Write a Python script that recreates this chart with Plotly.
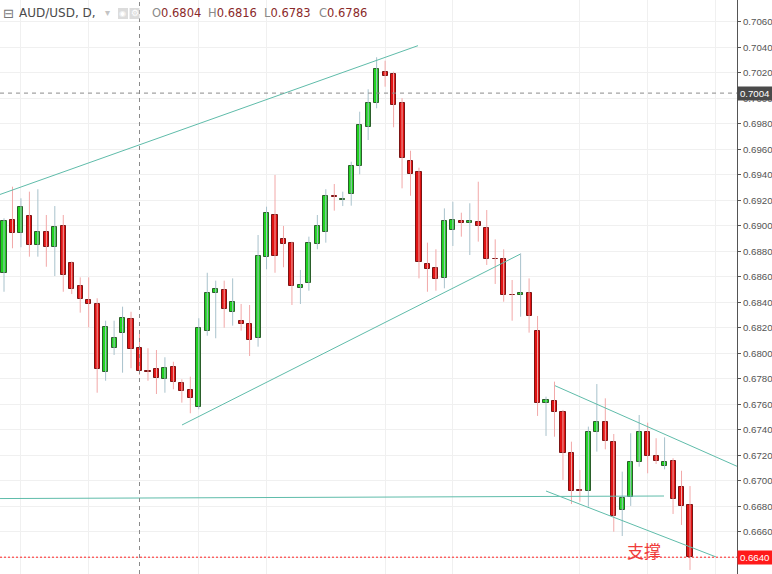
import plotly.graph_objects as go
import pandas as pd

# ---- data (AUD/USD daily) ----
opens = [0.68627, 0.69045, 0.68945, 0.69076, 0.68846, 0.68948, 0.68833, 0.68998, 0.68705, 0.68527,
         0.68417, 0.68384, 0.67855, 0.68043, 0.68156, 0.68266, 0.6804, 0.67862, 0.67874, 0.67795,
         0.67894, 0.67764, 0.67711, 0.67580, 0.68177, 0.68475, 0.68496, 0.68323, 0.68253, 0.68229,
         0.68117, 0.68757, 0.69084, 0.68893, 0.68867, 0.68514, 0.68553, 0.68854, 0.68953, 0.69235,
         0.69205, 0.69246, 0.69468, 0.69772, 0.69960, 0.70208, 0.70190, 0.69960, 0.69507, 0.69424,
         0.68700, 0.68666, 0.68592, 0.68966, 0.69037, 0.69019, 0.69027, 0.68984, 0.68740, 0.68737,
         0.68458, 0.68456, 0.68475, 0.68177, 0.67612, 0.67625, 0.67541, 0.67220, 0.66924, 0.66922,
         0.67384, 0.67463, 0.67306, 0.66770, 0.66875, 0.67144, 0.67380, 0.67194, 0.67118, 0.67157,
         0.66948, 0.66809]
highs = [0.69058, 0.69306, 0.69215, 0.69267, 0.69286, 0.69084, 0.69154, 0.69084, 0.68720, 0.68595,
         0.68595, 0.68431, 0.68255, 0.68255, 0.68365, 0.68325, 0.6816, 0.68039, 0.68025, 0.67968,
         0.67933, 0.67795, 0.67816, 0.68274, 0.68631, 0.68569, 0.68569, 0.68587, 0.68386, 0.68378,
         0.68927, 0.69149, 0.69398, 0.68998, 0.68875, 0.68653, 0.68914, 0.69084, 0.69286, 0.69327,
         0.69267, 0.69502, 0.69894, 0.70070, 0.70321, 0.70294, 0.70208, 0.70000, 0.69588, 0.69455,
         0.68867, 0.68815, 0.69136, 0.69188, 0.69102, 0.69176, 0.69345, 0.69123, 0.68893, 0.68815,
         0.68574, 0.68784, 0.68587, 0.68292, 0.67659, 0.67777, 0.67555, 0.67306, 0.67084, 0.67424,
         0.67758, 0.67646, 0.67366, 0.67071, 0.67372, 0.67515, 0.67455, 0.67333, 0.67340, 0.67176,
         0.67078, 0.66958]
lows = [0.68482, 0.68823, 0.68831, 0.68757, 0.68757, 0.68678, 0.68605, 0.68482, 0.68464, 0.68318,
        0.68203, 0.67690, 0.67784, 0.67986, 0.67847, 0.67882, 0.6783, 0.67784, 0.67680, 0.67690,
        0.67717, 0.67612, 0.67529, 0.67560, 0.68137, 0.68117, 0.68200, 0.68216, 0.68177, 0.67978,
        0.68051, 0.68658, 0.68631, 0.68674, 0.68378, 0.68386, 0.68490, 0.68815, 0.68867, 0.69118,
        0.69154, 0.69157, 0.69403, 0.69672, 0.69921, 0.70090, 0.69772, 0.69293, 0.69235, 0.68587,
        0.68482, 0.68490, 0.68509, 0.68841, 0.68914, 0.68770, 0.68875, 0.68692, 0.68543, 0.68404,
        0.68255, 0.68286, 0.68161, 0.67508, 0.67351, 0.67345, 0.67006, 0.66817, 0.66835, 0.66796,
        0.67228, 0.67246, 0.66600, 0.66566, 0.66802, 0.67110, 0.67058, 0.67131, 0.67089, 0.66739,
        0.66653, 0.66300]
closes = [0.69039, 0.68945, 0.69149, 0.68846, 0.68948, 0.68833, 0.68987, 0.68611, 0.68501, 0.68423,
          0.68384, 0.67874, 0.68203, 0.68117, 0.68274, 0.68031, 0.6786, 0.67855, 0.67803, 0.67882,
          0.67777, 0.67704, 0.67651, 0.68195, 0.68475, 0.68501, 0.68344, 0.68399, 0.68231, 0.68101,
          0.68762, 0.69097, 0.68762, 0.68854, 0.68527, 0.68535, 0.68867, 0.68998, 0.69233, 0.69225,
          0.69210, 0.69468, 0.69790, 0.69960, 0.70227, 0.70174, 0.69944, 0.69529, 0.69403, 0.68718,
          0.68660, 0.68584, 0.69037, 0.69045, 0.69019, 0.69037, 0.68998, 0.68737, 0.68735, 0.68456,
          0.68454, 0.68475, 0.68292, 0.67612, 0.67631, 0.67541, 0.67220, 0.66922, 0.66920, 0.67384,
          0.67463, 0.67311, 0.66726, 0.66862, 0.67144, 0.67380, 0.67194, 0.67155, 0.67144, 0.66857,
          0.66804, 0.66400]
dates = [d.strftime("%Y-%m-%d") for d in pd.bdate_range("2019-10-30", periods=len(opens))]
bar_index = list(range(len(opens)))

grid_bars = [2, 10, 23, 31, 45, 53, 68, 76, 84]          # vertical grid positions (bar index)
price_ticks = [round(0.6640 + 0.002 * k, 4) for k in range(22)]

# trend lines: (bar index, price) pairs
trend_lines = [
    ((-0.47, 0.69245), (48.88, 0.70412)),
    ((21.02, 0.67437), (60.93, 0.68776)),
    ((-0.47, 0.66860), (77.93, 0.66880)),
    ((65.06, 0.67745), (86.55, 0.67113)),
    ((64.00, 0.66919), (84.07, 0.66402)),
]
cross_bar = 16
cross_price = 0.7004
last_price = 0.6640
header = {"O": "0.6804", "H": "0.6816", "L": "0.6783", "C": "0.6786"}

X_RANGE = [-0.472, 86.55]
Y_RANGE = [0.662682, 0.707702]
PLOT_W = 737.0
H = 574.0

UP, DOWN = "#1fd21f", "#e01212"
UP_EDGE, DOWN_EDGE = "#2a5e2a", "#7c1414"
UP_WICK, DOWN_WICK = "#a8c2cc", "#f2a8a8"
TEAL = "#5fbcaa"

fig = go.Figure()

# wicks
for up, col in ((True, UP_WICK), (False, DOWN_WICK)):
    wx, wy = [], []
    for i in bar_index:
        if (closes[i] >= opens[i]) == up:
            wx += [i, i, None]
            wy += [lows[i], highs[i], None]
    fig.add_trace(go.Scatter(x=wx, y=wy, mode="lines", line=dict(color=col, width=1),
                             hoverinfo="skip", showlegend=False))

# bodies
base = [min(o, c) for o, c in zip(opens, closes)]
height = [abs(c - o) for o, c in zip(opens, closes)]
fill = [UP if c >= o else DOWN for o, c in zip(opens, closes)]
edge = [UP_EDGE if c >= o else DOWN_EDGE for o, c in zip(opens, closes)]
fig.add_trace(go.Bar(x=bar_index, y=height, base=base, width=0.6,
                     marker=dict(color=fill, line=dict(color=edge, width=1)),
                     customdata=list(zip(dates, opens, highs, lows, closes)),
                     hovertemplate="%{customdata[0]}<br>O %{customdata[1]}<br>H %{customdata[2]}"
                                   "<br>L %{customdata[3]}<br>C %{customdata[4]}<extra></extra>",
                     showlegend=False))

shapes = []
for (x0, y0), (x1, y1) in trend_lines:
    shapes.append(dict(type="line", xref="x", yref="y", x0=x0, y0=y0, x1=x1, y1=y1,
                       line=dict(color=TEAL, width=1)))
shapes.append(dict(type="line", xref="x", yref="paper", x0=cross_bar, x1=cross_bar, y0=0, y1=1,
                   line=dict(color="#8a8a8a", width=1, dash="4px,4px")))
shapes.append(dict(type="line", xref="paper", yref="y", x0=0, x1=1, y0=cross_price, y1=cross_price,
                   line=dict(color="#8a8a8a", width=1, dash="4px,4px")))
shapes.append(dict(type="line", xref="paper", yref="y", x0=0, x1=1, y0=last_price, y1=last_price,
                   line=dict(color="#ff2020", width=1, dash="2px,2px")))
# header icon boxes
for px0 in (118, 129.5):
    shapes.append(dict(type="rect", xref="paper", yref="paper",
                       x0=px0 / PLOT_W, x1=(px0 + 10) / PLOT_W, y0=1 - 19 / H, y1=1 - 8 / H,
                       fillcolor="#dcdcdc", line=dict(width=0)))

def px_x(px):
    return px / PLOT_W

def px_y(py):
    return 1 - py / H

ann = []
ann.append(dict(text="⊟", x=px_x(1), y=px_y(13), xref="paper", yref="paper", xanchor="left",
                yanchor="middle", showarrow=False, font=dict(family="DejaVu Sans", size=13, color="#777")))
ann.append(dict(text="AUD/USD, D,", x=px_x(17), y=px_y(13), xref="paper", yref="paper", xanchor="left",
                yanchor="middle", showarrow=False, font=dict(family="DejaVu Sans", size=12, color="#4a4a4a")))
ann.append(dict(text="▾", x=px_x(103), y=px_y(12), xref="paper", yref="paper", xanchor="left",
                yanchor="middle", showarrow=False, font=dict(family="DejaVu Sans", size=10, color="#c4c4c4")))
ann.append(dict(text="◉", x=px_x(123), y=px_y(13.5), xref="paper", yref="paper", xanchor="center",
                yanchor="middle", showarrow=False, font=dict(family="DejaVu Sans", size=8, color="#ffffff")))
ann.append(dict(text="⚙", x=px_x(134.5), y=px_y(13.5), xref="paper", yref="paper", xanchor="center",
                yanchor="middle", showarrow=False, font=dict(family="DejaVu Sans", size=9, color="#ffffff")))
for key, px in (("O", 150), ("H", 206), ("L", 262), ("C", 317)):
    ann.append(dict(text=f"<span style='color:#8a8a8a'>{key}</span>{header[key]}", x=px_x(px), y=px_y(13),
                    xref="paper", yref="paper", xanchor="left", yanchor="middle", showarrow=False,
                    font=dict(family="DejaVu Sans", size=11.5, color="#8b2a2a")))
ann.append(dict(text="支撑", x=75.6, y=0.66449, xref="x", yref="y", xanchor="center", yanchor="middle",
                showarrow=False, font=dict(family="Noto Sans CJK SC", size=17, color="#ef3b3b")))
for price, bg in ((cross_price, "#4a4a4a"), (last_price, "#ff1a1a")):
    ann.append(dict(text=f"{price:.4f}", x=1, y=price, xref="paper", yref="y", xanchor="left",
                    yanchor="middle", showarrow=False, bgcolor=bg, width=34, height=13, borderpad=0,
                    font=dict(family="Liberation Sans", size=9.7, color="#ffffff")))

fig.update_layout(
    width=772, height=574,
    margin=dict(l=0, r=35, t=0, b=0),
    paper_bgcolor="white", plot_bgcolor="white",
    showlegend=False, bargap=0, hovermode="closest",
    shapes=shapes, annotations=ann,
    xaxis=dict(range=X_RANGE, tickmode="array", tickvals=grid_bars, showticklabels=False,
               showgrid=True, gridcolor="#f0f0f0", gridwidth=1, zeroline=False, showline=False,
               ticks="", fixedrange=True),
    yaxis=dict(range=Y_RANGE, side="right", tickmode="array", tickvals=price_ticks,
               ticktext=[f"{t:.4f}" for t in price_ticks], showgrid=True, gridcolor="#f0f0f0",
               zeroline=False, showline=True, linecolor="#555555", linewidth=1,
               ticks="outside", ticklen=3, tickcolor="#555555", automargin=False,
               tickfont=dict(family="Liberation Sans", size=9.7, color="#555555")),
)

fig.write_html("out.html", config={"displayModeBar": False},
               post_script="document.body.style.margin='0';document.body.style.padding='0';")
